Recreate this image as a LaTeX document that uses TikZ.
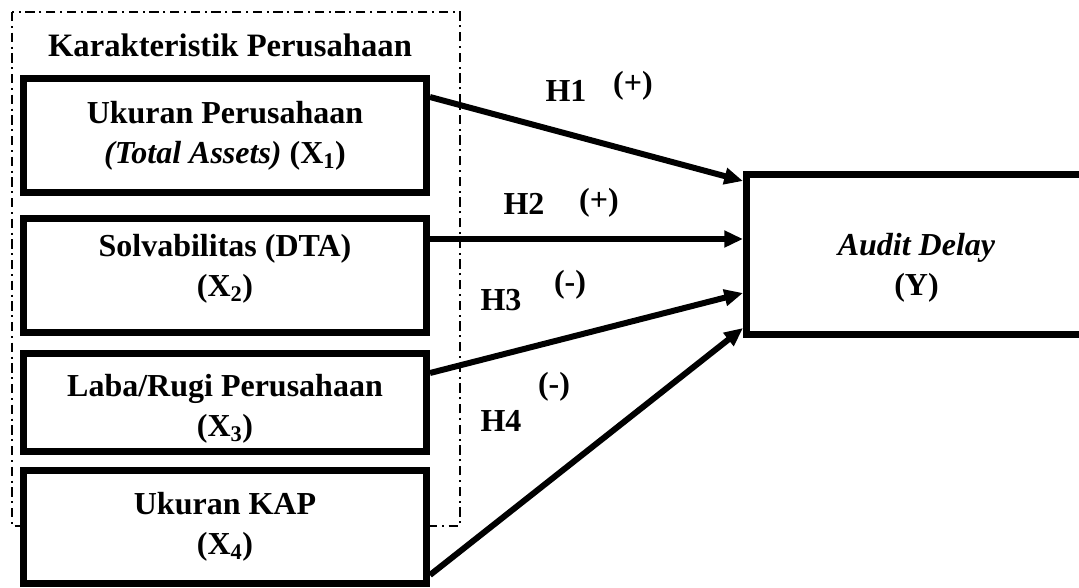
\documentclass[tikz,border=0pt]{standalone}
\usepackage{fontspec}
\setmainfont{Liberation Serif}
\usetikzlibrary{arrows.meta,calc}

\tikzset{
  varbox/.style={draw, line width=5.25pt, fill=white, align=center, inner sep=0pt,
    font=\fontsize{24}{30}\selectfont\bfseries, minimum width=302.25pt},
  hyp/.style={inner sep=0.75pt, font=\fontsize{24}{28}\selectfont\bfseries},
  panah/.style={line width=4.5pt, -{Triangle[length=14pt,width=12pt]}},
  kotak/.style={line width=1.5pt, dash pattern=on 7pt off 3.5pt on 1.5pt off 3.5pt},
}

\begin{document}
\begin{tikzpicture}[x=0.75pt,y=0.75pt,yscale=-1,xscale=1]
    \useasboundingbox (0,0) rectangle (1079,587);
    \clip (0,0) rectangle (1079,587);

    %Shape: dash-dot frame
    \draw[kotak] (12,12) rectangle (460,526);
    % Text Node
    \node[inner sep=0.75pt, font=\fontsize{24.5}{28}\selectfont\bfseries] (judul) at (230,45) {Karakteristik Perusahaan};

    %Variable boxes
    \node[varbox, minimum height=85.5pt] (x1) at (225,135.5) {Ukuran Perusahaan\\\textit{(Total Assets)} (X\textsubscript{1})};
    \node[varbox, minimum height=85.5pt] (x2) at (225,275.5) {Solvabilitas (DTA)\\(X\textsubscript{2})\\[-15pt]};
    \node[varbox, minimum height=73.5pt] (x3) at (225,402.5) {\rule{0pt}{26pt}Laba/Rugi Perusahaan\\(X\textsubscript{3})};
    \node[varbox, minimum height=84.75pt] (x4) at (225,527) {Ukuran KAP\\(X\textsubscript{4})};
    \node[varbox, minimum width=255pt, minimum height=120pt] (y) at (916.5,254.5) {\rule{0pt}{36pt}\textit{Audit Delay}\\(Y)};

    %Straight Lines
    \draw[panah] ($(x1.north east)+(0,22)$) -- ($(y.north west)+(0,10)$);
    \draw[panah] ($(x2.north east)+(0,24)$) -- ($(y.north west)+(0,68)$);
    \draw[panah] ($(x3.north east)+(0,23)$) -- ($(y.north west)+(0,122)$);
    \draw[panah] ($(x4.south east)+(0,-12)$) -- ($(y.south west)+(0,-10)$);

    % Text Node
    \node[hyp] (h1) at (566,91) {H1};
    \node[hyp] (t1) at (633,86) {(+)};
    \node[hyp] (h2) at (524,204) {H2};
    \node[hyp] (t2) at (599,203) {(+)};
    \node[hyp] (h3) at (501,300) {H3};
    \node[hyp] (t3) at (570,285) {(-)};
    \node[hyp] (h4) at (501,421) {H4};
    \node[hyp] (t4) at (554,387) {(-)};
\end{tikzpicture}
\end{document}
